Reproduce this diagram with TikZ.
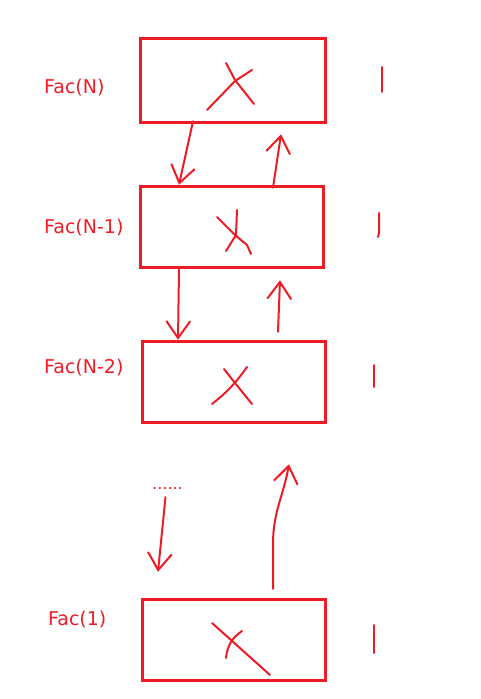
\documentclass[tikz,border=0pt]{standalone}
\usepackage{fontspec}
\setmainfont{DejaVu Sans}
\usetikzlibrary{arrows.meta}
\definecolor{paint}{HTML}{ED1C24}

\begin{document}
\begin{tikzpicture}[
  x=1pt, y=-1pt,
  box/.style={draw=paint, line width=3.5pt, inner sep=0pt,
              minimum width=#1, minimum height=81pt},
  box/.default=183pt,
  lbl/.style={text=paint, anchor=west, inner sep=0pt, font=\fontsize{19}{23}\selectfont},
  pen/.style={draw=paint, line width=2pt, line cap=round, line join=round},
  ar/.style={pen, -{Straight Barb[length=17pt, width=24pt, line width=2pt]}},
]
\useasboundingbox (0,0) rectangle (480,699);

%% ---------------- frames ----------------
\node[box=185pt, minimum height=84pt] (n1) at (233, 80.5) {};
\node[box] (n2) at (232, 227) {};
\node[box] (n3) at (234, 382) {};
\node[box] (n4) at (234, 640) {};

\node[lbl] (l1) at (44, 88)  {Fac(N)};
\node[lbl] (l2) at (44, 228) {Fac(N-1)};
\node[lbl] (l3) at (44, 368) {Fac(N-2)};
\node[lbl] (l4) at (48, 620) {Fac(1)};

\node[text=paint, anchor=base, inner sep=0pt, font=\fontsize{16}{18}\selectfont]
  (dots) at (167.5, 489) {......};

%% ---------------- crosses ----------------
\draw[pen] (226,63) -- (235,80) -- (254,104);
\draw[pen] (207,110) -- (235,81) -- (252,70);
\draw[pen] (217,217) -- (235,235) -- (247,245) -- (251,254);
\draw[pen] (237,210) -- (236,235) -- (226,251);
\draw[pen] (224,369) -- (235,383) -- (252,404);
\draw[pen] (247,367) to[bend left=8] (212,404);
\draw[pen] (212,623) -- (270,675);
\draw[pen] (242,631) to[bend right=25] (226,658);

%% ---------------- side marks ----------------
\draw[pen] (382,67) -- (382,92);
\draw[pen] (379,213) -- (379,233) -- (378,237);
\draw[pen] (374,365) -- (374,387);
\draw[pen] (374,625) -- (374,653);

%% ---------------- calls (down) and returns (up) ----------------
\draw[ar] ([xshift=-40pt, yshift=3pt]n1.south) -- ([xshift=-53pt]n2.north);
\draw[ar] ([xshift=41pt, yshift=-3pt]n2.north) -- ([xshift=48pt, yshift=-10pt]n1.south);

\draw[ar] ([xshift=-53pt]n2.south) -- ([xshift=-56pt]n3.north);
\draw[ar] ([xshift=44pt, yshift=8pt]n3.north) -- ([xshift=48pt, yshift=-11pt]n2.south);

\draw[ar] ([xshift=-2pt, yshift=-8pt]dots.south) -- ([xshift=-76pt, yshift=26pt]n4.north);
\draw[ar] ([xshift=39pt, yshift=9pt]n4.north) -- ++(0,-45)
  to[out=90, in=-100] ([xshift=55pt, yshift=-40pt]n3.south);

\end{tikzpicture}
\end{document}
